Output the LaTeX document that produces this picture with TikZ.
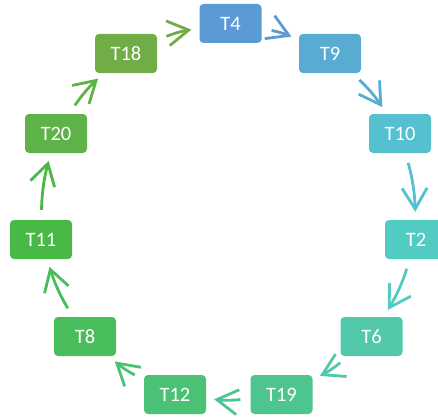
\documentclass[tikz,border=0pt]{standalone}
\usepackage{fontspec}
\setmainfont{Carlito}
\usetikzlibrary{arrows.meta}
% colour ramp from blue to green around the cycle
\definecolor{c0}{RGB}{91,155,213}
\definecolor{c1}{RGB}{88,172,210}
\definecolor{c2}{RGB}{85,192,207}
\definecolor{c3}{RGB}{82,203,195}
\definecolor{c4}{RGB}{80,200,169}
\definecolor{c5}{RGB}{77,197,143}
\definecolor{c6}{RGB}{75,193,117}
\definecolor{c7}{RGB}{73,189,92}
\definecolor{c8}{RGB}{73,185,70}
\definecolor{c9}{RGB}{93,179,71}
\definecolor{c10}{RGB}{112,173,71}
\begin{document}
\begin{tikzpicture}[x=1pt,y=1pt,
  task/.style={rounded corners=4pt, minimum width=62pt, minimum height=39pt,
    inner sep=0pt, text=white, font=\fontsize{20.5}{24}\selectfont},
  flow/.style={line width=2.8pt, -{Straight Barb[length=21pt,width=25pt]},
    shorten <=10pt, shorten >=8pt}]
\useasboundingbox (0,0) rectangle (438,416);
% tasks
\node[task, fill=c0]  (T4)  at (230.5,392.5) {T4};
\node[task, fill=c1]  (T9)  at (330,362.5)   {T9};
\node[task, fill=c2]  (T10) at (400,282.5)   {T10};
\node[task, fill=c3]  (T2)  at (416,176.5)   {T2};
\node[task, fill=c4]  (T6)  at (371.5,79.5)  {T6};
\node[task, fill=c5]  (T19) at (281.5,21.5)  {T19};
\node[task, fill=c6]  (T12) at (175,21.5)    {T12};
\node[task, fill=c7]  (T8)  at (85,79.5)     {T8};
\node[task, fill=c8]  (T11) at (41,176.5)    {T11};
\node[task, fill=c9]  (T20) at (56,282.5)    {T20};
\node[task, fill=c10] (T18) at (126,362.5)   {T18};
% cycle arrows, each in the colour of its source task
\draw[flow, c0]  (T4)  to[bend left=7] (T9);
\draw[flow, c1]  (T9)  to[bend left=7] (T10);
\draw[flow, c2]  (T10) to[bend left=7] (T2);
\draw[flow, c3]  (T2)  to[bend left=7] (T6);
\draw[flow, c4]  (T6)  to[bend left=7] (T19);
\draw[flow, c5]  (T19) to[bend left=7] (T12);
\draw[flow, c6]  (T12) to[bend left=7] (T8);
\draw[flow, c7]  (T8)  to[bend left=7] (T11);
\draw[flow, c8]  (T11) to[bend left=7] (T20);
\draw[flow, c9]  (T20) to[bend left=7] (T18);
\draw[flow, c10] (T18) to[bend left=7] (T4);
\end{tikzpicture}
\end{document}
